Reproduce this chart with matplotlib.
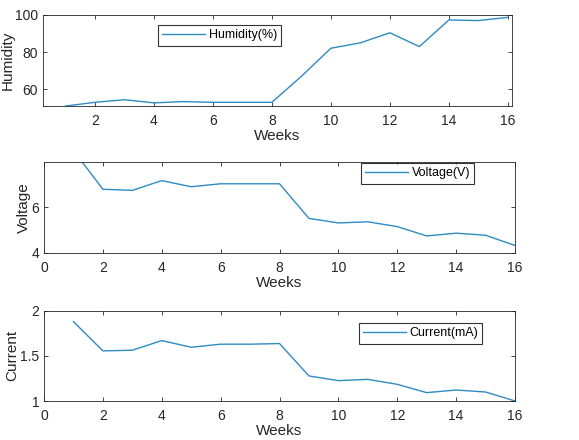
import numpy as np
import matplotlib
matplotlib.use("Agg")
import matplotlib.pyplot as plt

# Data
weeks = list(range(1, 17))
humidity = [51, 53.0, 54.4, 52.7, 53.4, 53.0, 53.0, 53.0, 67.0, 82.1, 85.0, 90.4, 83.0, 97.3, 97.0, 98.7]
voltage = [8.5, 6.80, 6.75, 7.18, 6.91, 7.04, 7.04, 7.04, 5.52, 5.32, 5.37, 5.16, 4.75, 4.87, 4.78, 4.33]
current = [1.88, 1.556, 1.563, 1.67, 1.596, 1.63, 1.63, 1.637, 1.278, 1.226, 1.24, 1.185, 1.093, 1.122, 1.10, 1.0]

plt.rcParams['font.family'] = ['Liberation Sans', 'DejaVu Sans']
line_color = '#2f8bc2'
axis_color = '#262626'

fig = plt.figure(figsize=(5.79, 4.4), dpi=100)
ax1 = fig.add_axes([0.0743, 0.759, 0.810, 0.207])
ax2 = fig.add_axes([0.076, 0.425, 0.8135, 0.207])
ax3 = fig.add_axes([0.076, 0.0886, 0.8135, 0.205])

panels = [
    (ax1, humidity, 'Humidity', 'Humidity(%)', (0.24, 16.14), (51, 100), [60, 80, 100], (0.245, 0.89)),
    (ax2, voltage, 'Voltage', 'Voltage(V)', (0, 16), (4, 8), [4, 6], (0.673, 0.989)),
    (ax3, current, 'Current', 'Current(mA)', (0, 16), (1, 2), [1, 1.5, 2], (0.668, 0.867)),
]

for ax, vals, ylab, leg, xl, yl, yt, legpos in panels:
    ax.plot(weeks, vals, color=line_color, lw=1.0, label=leg)
    ax.set_xlim(*xl)
    ax.set_ylim(*yl)
    ax.set_yticks(yt)
    ax.set_yticklabels([f'{v:g}' for v in yt])
    ax.set_xticks(range(0, 17, 2) if xl[0] == 0 else range(2, 17, 2))
    ax.set_xlabel('Weeks', fontsize=11, color=axis_color, labelpad=1.2)
    ax.set_ylabel(ylab, fontsize=11, color=axis_color, labelpad=0.5)
    ax.tick_params(axis='x', pad=5.5)
    ax.tick_params(direction='in', top=True, right=True, length=3,
                   labelsize=10, colors=axis_color, width=0.6)
    for s in ax.spines.values():
        s.set_color(axis_color)
        s.set_linewidth(0.6)
    lg = ax.legend(loc='upper left', bbox_to_anchor=legpos, fontsize=9,
                   handlelength=3.4, frameon=True, fancybox=False,
                   borderpad=0.35, handletextpad=0.3, borderaxespad=0)
    lg.get_frame().set_edgecolor('#000000')
    lg.get_frame().set_linewidth(0.8)

fig.savefig('out.png', dpi=100)
